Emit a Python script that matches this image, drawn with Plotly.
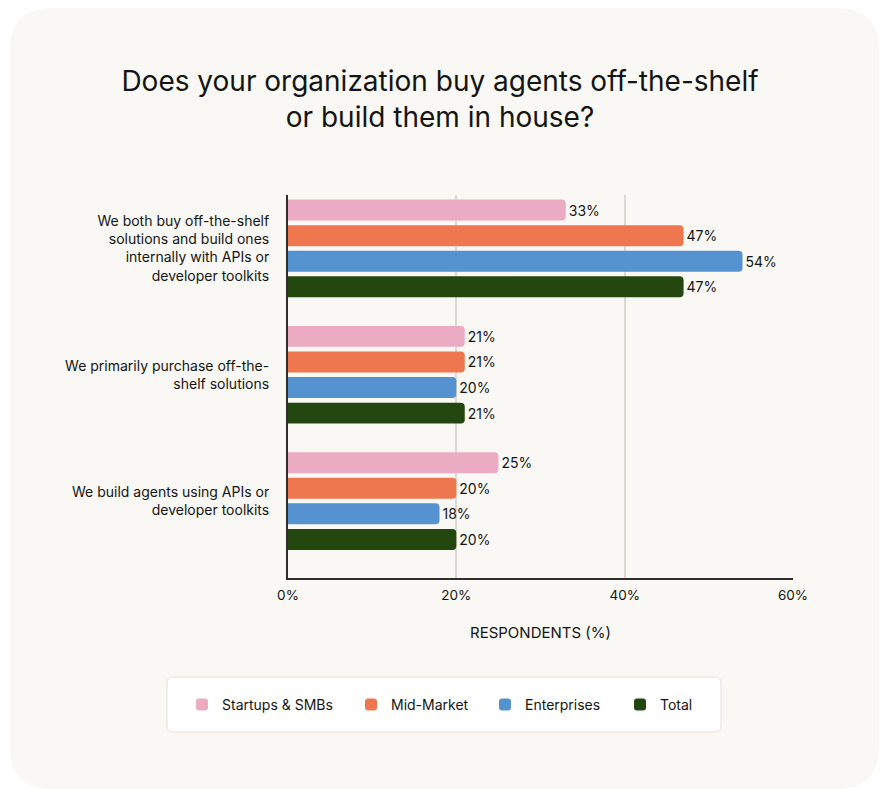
import plotly.graph_objects as go

categories = [
    "We both buy off-the-shelf<br>solutions and build ones<br>internally with APIs or<br>developer toolkits",
    "We primarily purchase off-the-<br>shelf solutions",
    "We build agents using APIs or<br>developer toolkits",
]
series_names = ["Startups & SMBs", "Mid-Market", "Enterprises", "Total"]
startups = [33, 21, 25]
mid_market = [47, 21, 20]
enterprises = [54, 20, 18]
total = [47, 21, 20]
x_ticks = [0, 20, 40, 60]
x_tick_labels = ["0%", "20%", "40%", "60%"]

colors = ["#EBACC3", "#EE7750", "#5592D0", "#23470E"]
values = [startups, mid_market, enterprises, total]

W, H = 880, 789
ML, MR, MT, MB = 288, 87, 195, 211
PW, PH = W - ML - MR, H - MT - MB
FONT = "Inter"
TXT = "#141413"


def px2paper(x, y):
    return (x - ML) / PW, (H - MB - y) / PH


def rounded_rect(x0, y0, x1, y1, r):
    def P(x, y):
        a, b = px2paper(x, y)
        return f"{a:.5f},{b:.5f}"
    d = f"M{P(x0 + r, y0)} L{P(x1 - r, y0)} Q{P(x1, y0)} {P(x1, y0 + r)} "
    d += f"L{P(x1, y1 - r)} Q{P(x1, y1)} {P(x1 - r, y1)} "
    d += f"L{P(x0 + r, y1)} Q{P(x0, y1)} {P(x0, y1 - r)} "
    d += f"L{P(x0, y0 + r)} Q{P(x0, y0)} {P(x0 + r, y0)} Z"
    return d


legend_ids = ["legend", "legend2", "legend3", "legend4"]
legend_swatch_x = [196, 365, 499, 634]  # px of swatch left edge

fig = go.Figure()
for name, vals, col, lid in zip(series_names, values, colors, legend_ids):
    fig.add_trace(go.Bar(
        y=categories, x=vals, name=name, orientation="h",
        marker=dict(color=col, line=dict(width=0)),
        text=[f"{v}%" for v in vals], textposition="outside",
        textfont=dict(family=FONT, size=14, color=TXT),
        cliponaxis=False, legend=lid,
        hoverinfo="skip",
    ))

shapes = [
    dict(type="path", xref="paper", yref="paper", layer="below",
         path=rounded_rect(10, 8, 879, 789, 42),
         fillcolor="#F9F8F4", line=dict(width=0)),
    dict(type="path", xref="paper", yref="paper", layer="below",
         path=rounded_rect(167, 677, 721, 732, 6),
         fillcolor="#FFFFFF", line=dict(width=1, color="#E6DFD3")),
]

legend_common = dict(
    orientation="h", xref="container", yref="container",
    xanchor="left", y=(H - 705) / H, yanchor="middle",
    bgcolor="rgba(0,0,0,0)", borderwidth=0,
    font=dict(family=FONT, size=14, color=TXT),
)
legends = {}
for lid, sx in zip(legend_ids, legend_swatch_x):
    legends[lid] = dict(legend_common, x=(sx - 14) / W)

fig.update_layout(
    width=W, height=H,
    margin=dict(l=ML, r=MR, t=MT, b=MB, pad=0),
    paper_bgcolor="#FFFFFF",
    plot_bgcolor="rgba(0,0,0,0)",
    barmode="group",
    bargap=0.19,
    bargroupgap=0.18,
    barcornerradius=4,
    font=dict(family=FONT, size=13, color=TXT),
    title=dict(
        text="Does your organization buy agents off-the-shelf<br>or build them in house?",
        x=440 / W, xref="container", xanchor="center",
        y=1 - 91 / H, yref="container", yanchor="middle",
        font=dict(family=FONT, size=28, color=TXT),
    ),
    xaxis=dict(
        range=[0, 60], tickvals=x_ticks, ticktext=x_tick_labels,
        showgrid=True, gridcolor="#DDD9D0", gridwidth=1.5,
        zeroline=False, showline=True, linecolor="#2E2E2C", linewidth=2,
        ticks="", tickfont=dict(family=FONT, size=13.5, color=TXT),
        ticklabelstandoff=4,
        title=dict(text="RESPONDENTS (%)", standoff=25,
                   font=dict(family=FONT, size=15, color=TXT)),
        fixedrange=True,
    ),
    yaxis=dict(
        type="category", categoryorder="array", categoryarray=categories,
        range=[2.609, -0.423],
        showgrid=False, zeroline=False,
        showline=True, linecolor="#2E2E2C", linewidth=2,
        ticks="", ticklabelstandoff=14,
        tickfont=dict(family=FONT, size=14, color=TXT),
        fixedrange=True,
    ),
    shapes=shapes,
    showlegend=True,
    **legends,
)

fig.write_html(
    "out.html",
    config={"displayModeBar": False},
    post_script="document.body.style.margin='0px';document.body.style.overflow='hidden';",
)
